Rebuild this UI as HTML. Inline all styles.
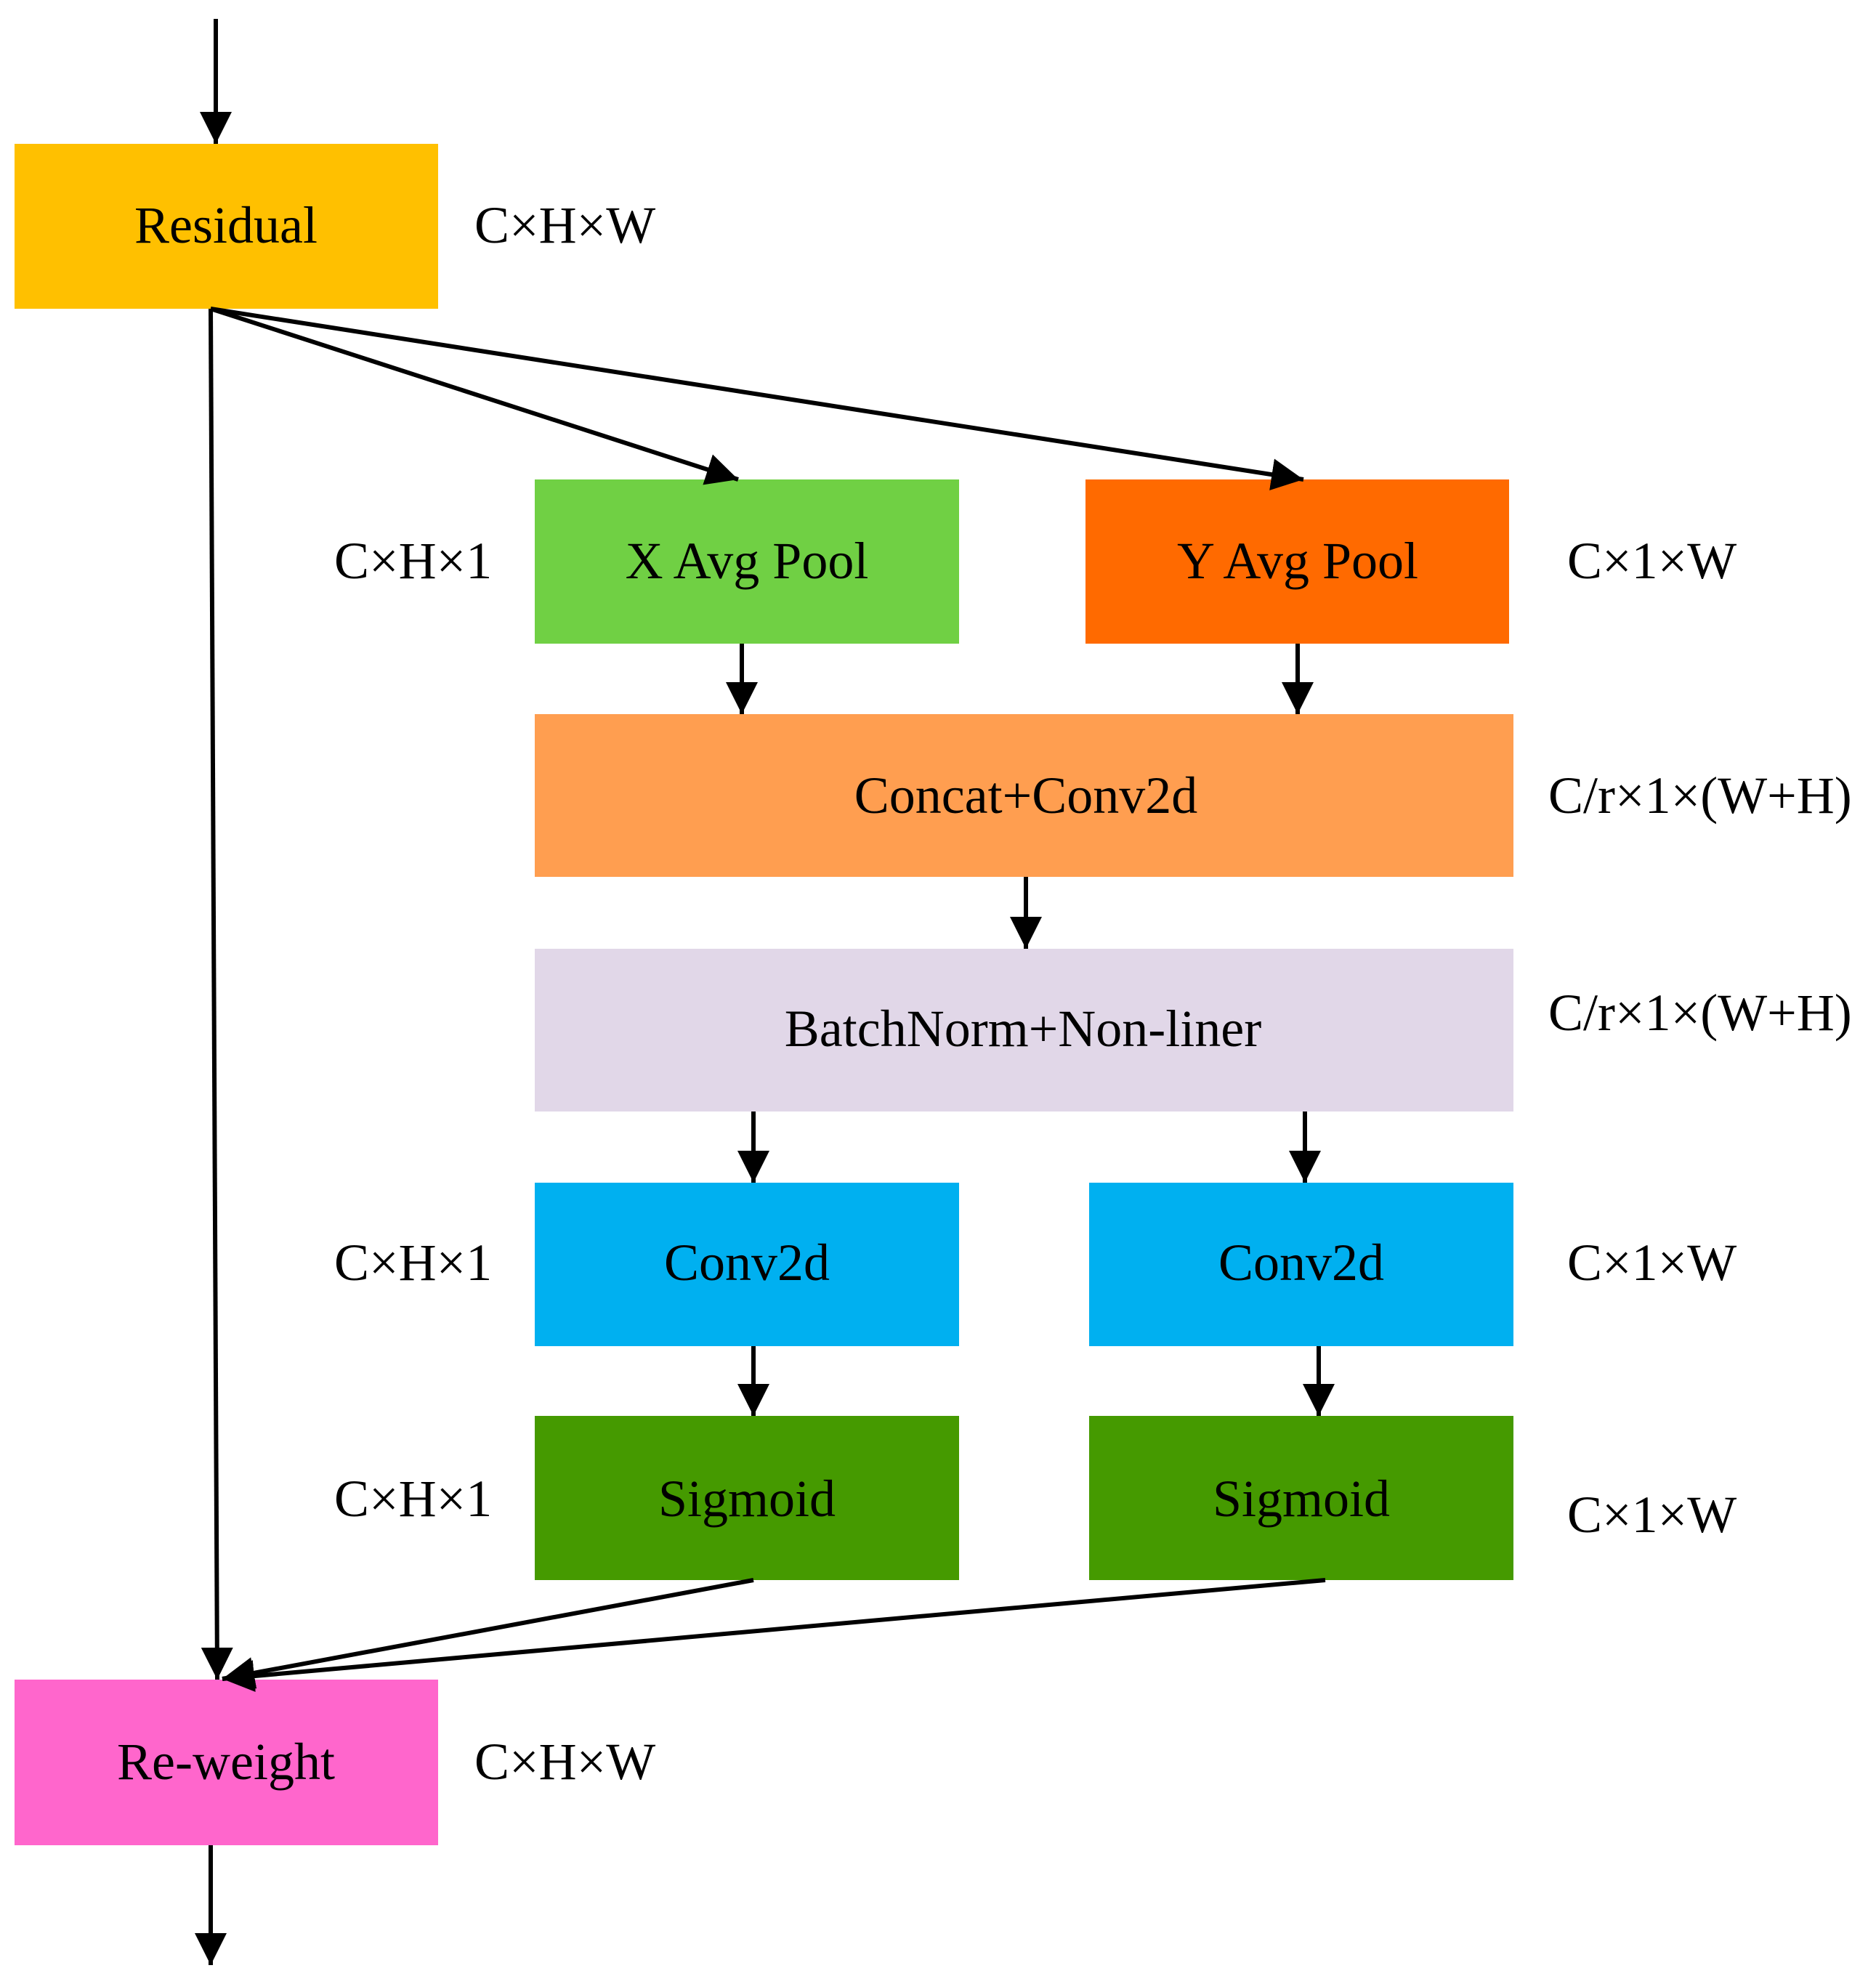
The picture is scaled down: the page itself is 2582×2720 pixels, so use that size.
<!DOCTYPE html>
<html><head><meta charset="utf-8"><style>html,body{margin:0;padding:0;background:#fff}svg{display:block}</style></head>
<body>
<svg width="2582" height="2720" viewBox="0 0 2582 2720" xmlns="http://www.w3.org/2000/svg" font-family="'Liberation Serif', serif" font-size="72">
<defs>
<marker id="a" markerUnits="userSpaceOnUse" markerWidth="44" markerHeight="44" refX="44" refY="22" orient="auto">
<path d="M0,0 L44,22 L0,44 Z" fill="#000"/>
</marker>
</defs>
<rect width="2582" height="2720" fill="#fff"/>
<rect x="20" y="198" width="583" height="227" fill="#FFC000"/>
<rect x="736" y="660" width="584" height="226" fill="#70D044"/>
<rect x="1494" y="660" width="583" height="226" fill="#FF6A00"/>
<rect x="736" y="983" width="1347" height="224" fill="#FF9E50"/>
<rect x="736" y="1306" width="1347" height="224" fill="#E1D7E8"/>
<rect x="736" y="1628" width="584" height="225" fill="#00B0F0"/>
<rect x="1499" y="1628" width="584" height="225" fill="#00B0F0"/>
<rect x="736" y="1949" width="584" height="226" fill="#459A00"/>
<rect x="1499" y="1949" width="584" height="226" fill="#459A00"/>
<rect x="20" y="2312" width="583" height="228" fill="#FF66CC"/>
<g text-anchor="middle" fill="#000">
<text x="311" y="334">Residual</text>
<text x="1028" y="796">X Avg Pool</text>
<text x="1786" y="796">Y Avg Pool</text>
<text x="1412" y="1119">Concat+Conv2d</text>
<text x="1408" y="1440">BatchNorm+Non-liner</text>
<text x="1028" y="1762">Conv2d</text>
<text x="1791" y="1762">Conv2d</text>
<text x="1028" y="2087">Sigmoid</text>
<text x="1791" y="2087">Sigmoid</text>
<text x="311" y="2449">Re-weight</text>
</g>
<g fill="#000">
<text x="653" y="334">C×H×W</text>
<text x="460" y="796">C×H×1</text>
<text x="2157" y="796">C×1×W</text>
<text x="2131" y="1119">C/r×1×(W+H)</text>
<text x="2131" y="1418">C/r×1×(W+H)</text>
<text x="460" y="1762">C×H×1</text>
<text x="2157" y="1762">C×1×W</text>
<text x="460" y="2087">C×H×1</text>
<text x="2157" y="2109">C×1×W</text>
<text x="653" y="2449">C×H×W</text>
</g>
<g stroke="#000" stroke-width="6" fill="none" marker-end="url(#a)">
<line x1="297" y1="26" x2="297" y2="198"/>
<line x1="290" y1="425" x2="1016" y2="660"/>
<line x1="290" y1="425" x2="1794" y2="660"/>
<line x1="290" y1="425" x2="299" y2="2312"/>
<line x1="1021" y1="886" x2="1021" y2="983"/>
<line x1="1786" y1="886" x2="1786" y2="983"/>
<line x1="1412" y1="1207" x2="1412" y2="1306"/>
<line x1="1037" y1="1530" x2="1037" y2="1628"/>
<line x1="1796" y1="1530" x2="1796" y2="1628"/>
<line x1="1037" y1="1853" x2="1037" y2="1949"/>
<line x1="1815" y1="1853" x2="1815" y2="1949"/>
<line x1="1037" y1="2175" x2="306" y2="2311"/>
<line x1="1824" y1="2175" x2="306" y2="2311"/>
<line x1="290" y1="2540" x2="290" y2="2705"/>
</g>
</svg>
</body></html>
